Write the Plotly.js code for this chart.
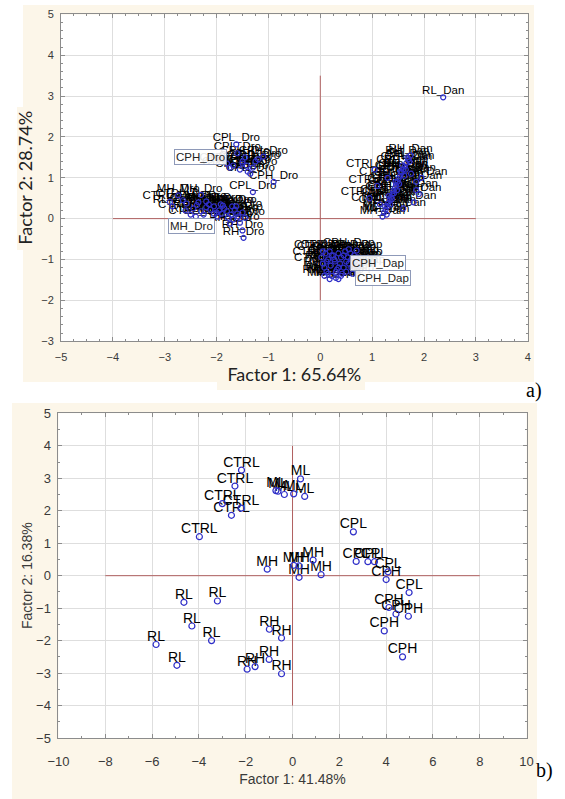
<!DOCTYPE html>
<html>
<head>
<meta charset="utf-8">
<script src="https://cdn.plot.ly/plotly-3.0.1.min.js"></script>
<style>
html,body{margin:0;padding:0;background:#fff;}
#chart{width:565px;height:799px;}
</style>
</head>
<body>
<div id="chart"></div>
<script>
// ---------- Panel a) data ----------
const droUpX = [-1.62,-1.60,-1.45,-1.50,-1.68,-1.55,-1.40,-1.35,-1.25,-0.90,-1.30,-1.20,-1.75,-1.10,-1.50,-1.42,-1.80,-1.30];
const droUpY = [1.82,1.60,1.50,1.35,1.30,1.20,1.15,1.10,1.40,0.90,0.65,1.45,1.25,1.52,1.40,1.30,1.35,1.25];
const droUpL = ['CPL_Dro','CPL_Dro','CPH_Dro','CTRL_Dro','CTRL_Dro','CPH_Dro','RH_Dro','CPH_Dro','CPH_Dro','CPH_Dro','CPL_Dro','CPL_Dro','CTRL_Dro','CPH_Dro','CPL_Dro','CPH_Dro','CTRL_Dro','CPH_Dro'];

const droLowX = [-2.74,-2.30,-2.90,-2.58,-2.45,-2.38,-2.30,-2.20,-2.12,-2.05,-2.00,-1.95,-1.90,-1.85,-1.80,-1.72,-1.65,-1.58,-1.50,-1.45,-1.74,-1.55,-1.50,-1.48,-2.60,-2.25,-1.98,-1.62,
                 -2.85,-2.65,-2.50,-2.35,-2.15,-2.05,-1.88,-1.78,-1.70,-1.60,-2.40,-2.20,-1.92,-1.68];
const droLowY = [0.57,0.58,0.41,0.37,0.25,0.33,0.18,0.28,0.22,0.30,0.15,0.20,0.12,0.25,0.18,0.10,0.22,0.05,0.15,0.02,-0.12,-0.10,-0.29,-0.47,0.20,0.10,0.05,0.30,
                 0.30,0.45,0.10,0.40,0.35,0.12,0.32,0.02,0.30,0.12,0.05,0.42,0.35,-0.02];
const droLowL = ['MH_Dro','MH_Dro','CTRL_Dro','RL_Dro','RH_Dro','CTRL_Dro','RL_Dro','ML_Dro','RH_Dro','ML_Dro','CTRL_Dro','RL_Dro','MH_Dro','RH_Dro','ML_Dro','RL_Dro','CTRL_Dro','RH_Dro','ML_Dro','RL_Dro','RH_Dro','RL_Dro','RH_Dro','RH_Dro','CTRL_Dro','MH_Dro','ML_Dro','ML_Dro',
                 'RL_Dro','CTRL_Dro','RL_Dro','MH_Dro','RH_Dro','CTRL_Dro','ML_Dro','RL_Dro','MH_Dro','RH_Dro','CTRL_Dro','ML_Dro','RH_Dro','RL_Dro'];

const danX = [1.20,1.23,1.26,1.29,1.31,1.34,1.36,1.39,1.41,1.44,1.46,1.49,1.51,1.54,1.57,1.60,1.63,1.66,1.70,1.74,0.95,1.10,1.80,1.85,1.95,1.05,1.75,1.60,1.30,2.37,
              1.25,1.32,1.38,1.45,1.52,1.58,1.65,1.72,1.28,1.35,1.42,1.48,1.55,1.62,1.68,1.15,1.85,1.90];
const danY = [0.05,0.15,0.22,0.30,0.38,0.46,0.52,0.60,0.68,0.75,0.82,0.90,0.98,1.05,1.12,1.20,1.28,1.36,1.45,1.55,0.50,0.80,0.40,0.70,1.00,1.20,1.10,0.25,1.00,2.97,
              0.30,0.55,0.48,0.90,0.85,1.30,1.20,1.40,0.10,0.35,0.62,0.70,1.15,1.05,1.50,0.35,0.90,0.60];
const danL = ['MH_Dan','ML_Dan','MH_Dan','CTRL_Dan','ML_Dan','RH_Dan','CTRL_Dan','CPL_Dan','CPH_Dan','RL_Dan','CTRL_Dan','CPH_Dan','CPL_Dan','RH_Dan','CPH_Dan','CPL_Dan','RL_Dan','CPH_Dan','RH_Dan','RH_Dan','CTRL_Dan','CTRL_Dan','MH_Dan','ML_Dan','CPH_Dan','CTRL_Dan','CPL_Dan','MH_Dan','CTRL_Dan','RL_Dan',
              'ML_Dan','CTRL_Dan','MH_Dan','CPL_Dan','RL_Dan','CPH_Dan','RH_Dan','CPL_Dan','MH_Dan','ML_Dan','CTRL_Dan','RL_Dan','CPH_Dan','CPL_Dan','RH_Dan','CTRL_Dan','CPH_Dan','MH_Dan'];

const dapX = [0.02,0.05,0.08,0.10,0.12,0.15,0.18,0.20,0.22,0.25,0.28,0.30,0.32,0.35,0.38,0.40,0.42,0.45,0.48,0.50,0.53,0.55,0.58,0.60,0.65,0.70,0.75,0.35,0.18,
              0.05,0.12,0.22,0.30,0.40,0.50,0.60,0.68,0.15,0.27,0.45,0.55,0.62,0.08,0.35,0.72];
const dapY = [-0.95,-1.10,-1.20,-0.85,-1.30,-1.00,-0.80,-1.15,-1.40,-0.90,-1.05,-1.45,-1.25,-0.85,-1.10,-0.95,-1.35,-1.20,-0.80,-1.05,-0.95,-1.10,-0.85,-1.00,-0.90,-0.78,-1.15,-1.48,-1.48,
              -0.80,-1.05,-0.90,-1.30,-1.40,-1.30,-1.20,-1.00,-1.35,-1.00,-0.90,-0.75,-1.35,-1.40,-1.20,-0.95];
const dapL = ['CTRL_Dap','CTRL_Dap','RL_Dap','CTRL_Dap','RH_Dap','RL_Dap','CTRL_Dap','ML_Dap','MH_Dap','CPL_Dap','RH_Dap','MH_Dap','ML_Dap','CPH_Dap','RL_Dap','CPL_Dap','MH_Dap','ML_Dap','CPH_Dap','CPL_Dap','CPH_Dap','CPL_Dap','CPH_Dap','CPH_Dap','CPL_Dap','CPH_Dap','CPH_Dap','MH_Dap','MH_Dap',
              'CTRL_Dap','RL_Dap','ML_Dap','RH_Dap','MH_Dap','ML_Dap','CPL_Dap','CPH_Dap','RH_Dap','RL_Dap','CPL_Dap','CPH_Dap','ML_Dap','RH_Dap','MH_Dap','CPL_Dap'];

const boxText = ['CPH_Dro','MH_Dro','CPH_Dap','CPH_Dap'];
const boxX = [-2.31,-2.48,1.11,1.20];
const boxY = [1.51,-0.17,-1.08,-1.45];

// ---------- Panel b) data ----------
const bLabels = ['CTRL','CTRL','CTRL','CTRL','CTRL','CTRL',
                 'ML','ML','ML','ML','ML','ML',
                 'MH','MH','MH','MH','MH','MH',
                 'CPL','CPL','CPL','CPL','CPL','CPL',
                 'CPH','CPH','CPH','CPH','CPH','CPH',
                 'RL','RL','RL','RL','RL','RL',
                 'RH','RH','RH','RH','RH','RH'];
const bX = [-2.18,-2.46,-3.00,-2.20,-2.61,-3.98,
            0.34,-0.71,-0.62,-0.35,0.05,0.52,
            -1.08,0.05,0.28,0.88,0.28,1.22,
            2.60,2.72,3.22,3.50,4.08,4.98,
            4.00,4.12,4.42,4.95,3.92,4.70,
            -4.64,-3.21,-4.30,-3.46,-5.83,-4.94,
            -0.99,-0.47,-1.00,-1.60,-1.94,-0.47];
const bY = [3.25,2.76,2.22,2.08,1.86,1.20,
            2.98,2.62,2.60,2.50,2.52,2.44,
            0.20,0.32,0.30,0.48,-0.05,0.03,
            1.35,0.44,0.43,0.43,0.12,-0.52,
            -0.12,-0.98,-1.18,-1.25,-1.70,-2.50,
            -0.82,-0.78,-1.55,-2.00,-2.12,-2.76,
            -1.65,-1.92,-2.58,-2.80,-2.88,-3.02];

const blue = '#2f2fc8';
const txt = {family:'Liberation Sans, Arial, sans-serif', color:'#000'};

function textTrace(x,y,t,xa,ya,size){
  return {x:x,y:y,text:t,mode:'text',type:'scatter',xaxis:xa,yaxis:ya,
          textposition:'top center',textfont:Object.assign({size:size},txt),
          hoverinfo:'skip',showlegend:false,cliponaxis:false};
}
function markTrace(x,y,xa,ya,size){
  return {x:x,y:y,mode:'markers',type:'scatter',xaxis:xa,yaxis:ya,
          marker:{symbol:'circle-open',size:size,color:blue,line:{width:1.2,color:blue}},
          hoverinfo:'skip',showlegend:false};
}

const aX = [].concat(droUpX, droLowX, danX, dapX);
const aY = [].concat(droUpY, droLowY, danY, dapY);
const aL = [].concat(droUpL, droLowL, danL, dapL);

const data = [
  textTrace(aX,aY,aL,'x','y',11.5),
  markTrace(aX,aY,'x','y',5),
  textTrace(bX,bY,bLabels,'x2','y2',14),
  markTrace(bX,bY,'x2','y2',6)
];

const beige = '#fcf6e9';
const gridc = '#dedede';
const linec = '#8c8c8c';
const tickf = {family:'Liberation Sans, Arial, sans-serif', color:'#3a3a3a'};

function axis(extra){
  return Object.assign({
    showgrid:true, gridcolor:gridc, gridwidth:1, zeroline:false,
    showline:true, linecolor:linec, linewidth:1, mirror:'ticks',
    ticks:'inside', ticklen:4, tickcolor:linec, tickwidth:1,
    fixedrange:true
  }, extra);
}

const layout = {
  width:565, height:799, autosize:false,
  margin:{l:0,r:0,t:0,b:0},
  paper_bgcolor:'#ffffff', plot_bgcolor:'#ffffff',
  showlegend:false,
  xaxis: axis({domain:[0.108,0.934], anchor:'y', range:[-5,4], dtick:1, tick0:0,
    minor:{dtick:0.25, ticks:'inside', ticklen:2, tickcolor:linec, showgrid:false},
    tickfont:Object.assign({size:11},tickf), ticklabelstandoff:6,
    title:{text:'Factor 1: 65.64%', font:{family:'Lato, Carlito, sans-serif', size:18, color:'#222'}, standoff:5}}),
  yaxis: axis({domain:[0.573,0.982], anchor:'x', range:[-3,5], dtick:1, tick0:0,
    minor:{dtick:0.2, ticks:'inside', ticklen:2, tickcolor:linec, showgrid:false},
    tickfont:Object.assign({size:11},tickf), ticklabelstandoff:4,
    title:{text:'Factor 2: 28.74%', font:{family:'Lato, Carlito, sans-serif', size:18, color:'#222'}, standoff:3}}),
  xaxis2: axis({domain:[0.1035,0.932], anchor:'y2', range:[-10,10], dtick:2, tick0:0,
    minor:{dtick:1, ticks:'inside', ticklen:2, tickcolor:linec, showgrid:false},
    tickfont:Object.assign({size:13},tickf), ticklabelstandoff:11,
    title:{text:'Factor 1: 41.48%', font:Object.assign({size:14},tickf), standoff:6}}),
  yaxis2: axis({domain:[0.0763,0.4827], anchor:'x2', range:[-5,5], dtick:1, tick0:0,
    minor:{dtick:0.5, ticks:'inside', ticklen:2, tickcolor:linec, showgrid:false},
    tickfont:Object.assign({size:13},tickf), ticklabelstandoff:4,
    title:{text:'Factor 2: 16.38%', font:Object.assign({size:14},tickf), standoff:0}}),
  shapes: [
    // beige backgrounds
    {type:'rect', xref:'paper', yref:'paper', x0:23/565, x1:534/565, y0:1-382/799, y1:1-5/799, fillcolor:beige, line:{width:0}, layer:'below'},
    {type:'rect', xref:'paper', yref:'paper', x0:17/565, x1:40/565, y0:1-250/799, y1:1-107/799, fillcolor:beige, line:{width:0}, layer:'below'},
    {type:'rect', xref:'paper', yref:'paper', x0:217/565, x1:365/565, y0:1-390/799, y1:1-360/799, fillcolor:beige, line:{width:0}, layer:'below'},
    {type:'rect', xref:'paper', yref:'paper', x0:12/565, x1:537/565, y0:0, y1:1-403/799, fillcolor:beige, line:{width:0}, layer:'below'},
    // plot areas white
    {type:'rect', xref:'x domain', yref:'y domain', x0:0, x1:1, y0:0, y1:1, fillcolor:'#ffffff', line:{width:0}, layer:'below'},
    {type:'rect', xref:'x2 domain', yref:'y2 domain', x0:0, x1:1, y0:0, y1:1, fillcolor:'#ffffff', line:{width:0}, layer:'below'},
    // red reference lines
    {type:'line', xref:'x', yref:'y', x0:-4, x1:3, y0:0, y1:0, line:{color:'#b06060', width:1}, layer:'between'},
    {type:'line', xref:'x', yref:'y', x0:0, x1:0, y0:-2, y1:3.5, line:{color:'#b06060', width:1}, layer:'between'},
    {type:'line', xref:'x2', yref:'y2', x0:-8, x1:8, y0:0, y1:0, line:{color:'#b06060', width:1}, layer:'between'},
    {type:'line', xref:'x2', yref:'y2', x0:0, x1:0, y0:-4, y1:4, line:{color:'#b06060', width:1}, layer:'between'}
  ],
  annotations: boxText.map((t,i)=>({
    x:boxX[i], y:boxY[i], xref:'x', yref:'y', text:t, showarrow:false,
    font:{family:'Liberation Sans, Arial, sans-serif', size:11.5, color:'#222'},
    bgcolor:'rgba(255,255,255,0.9)', bordercolor:'#8e99b8', borderwidth:1, borderpad:1
  })).concat([
    {x:544/565, y:1-391/799, xref:'paper', yref:'paper', text:'a)', showarrow:false,
     font:{family:'Liberation Serif, Times New Roman, serif', size:20, color:'#000'}},
    {x:555/565, y:1-784/799, xref:'paper', yref:'paper', text:'b)', showarrow:false,
     font:{family:'Liberation Serif, Times New Roman, serif', size:20, color:'#000'}}
  ])
};

Plotly.newPlot('chart', data, layout, {staticPlot:true, displayModeBar:false});
</script>
</body>
</html>
